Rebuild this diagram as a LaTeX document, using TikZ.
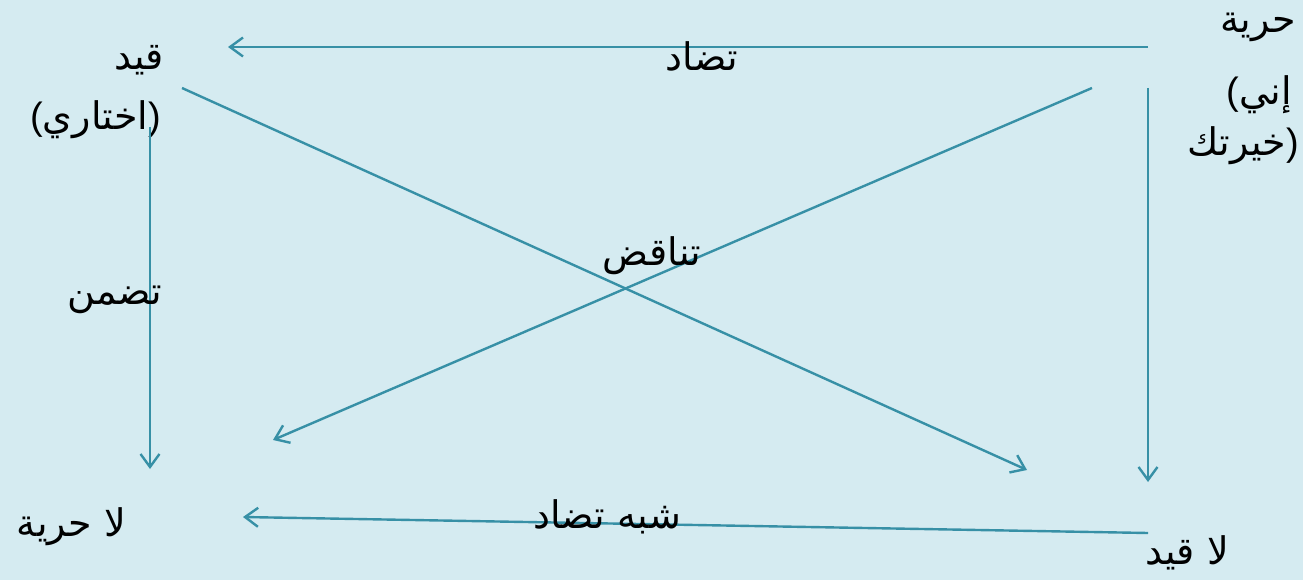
\documentclass[tikz,border=0pt]{standalone}
\usepackage{fontspec}
\usetikzlibrary{arrows.meta}
\TeXXeTstate=1
\newfontfamily\arabicfont[Script=Arabic]{DejaVu Sans}
\newfontfamily\parfont{Liberation Sans}
\newcommand{\lp}{{\parfont(}}
\newcommand{\rp}{{\parfont)}}
\definecolor{bgc}{HTML}{D5EBF1}
\definecolor{arc}{HTML}{3790A6}
\tikzset{
  conn/.style={draw=arc, line width=2.4pt, -{Straight Barb[length=13pt,width=19pt,line width=2.4pt]}},
  lbl/.style={inner sep=0pt, font=\fontsize{38}{44}\selectfont\arabicfont, text=black},
}
\begin{document}
\begin{tikzpicture}[x=1pt,y=-1pt]
\fill[bgc] (0,0) rectangle (1303,580);
\useasboundingbox (0,0) rectangle (1303,580);
% corner texts
\node[lbl, anchor=east] (hur) at (1296,27) {\beginR حرية\endR};
\node[lbl, anchor=east] (inni) at (1292,95) {\lp\beginR إني\endR};
\node[lbl, anchor=east] (khay) at (1299,146) {\beginR خيرتك\endR\rp};
\node[lbl, anchor=east] (qayd) at (164,60) {\beginR قيد\endR};
\node[lbl, anchor=east] (ikht) at (161,120) {\lp\beginR اختاري\endR\rp};
\node[lbl, anchor=east] (lahur) at (126,527) {\beginR لا حرية\endR};
\node[lbl, anchor=east] (laqayd) at (1229,553) {\beginR لا قيد\endR};
% connector ends
\coordinate (t1) at (1148,47);  \coordinate (t2) at (228,47);
\coordinate (r1) at (1148,88);  \coordinate (r2) at (1148,482);
\coordinate (l1) at (150,127);  \coordinate (l2) at (150,469);
\coordinate (d1) at (182,88);   \coordinate (d2) at (1027,470);
\coordinate (e1) at (1092,88);  \coordinate (e2) at (273,440);
\coordinate (b1) at (1148,533); \coordinate (b2) at (243,517);
\draw[conn] (t1) -- (t2);
\draw[conn] (r1) -- (r2);
\draw[conn] (l1) -- (l2);
\draw[conn] (d1) -- (d2);
\draw[conn] (e1) -- (e2);
\draw[conn] (b1) -- (b2);
% labels
\node[lbl] (tadad) at (702,56) {\beginR تضاد\endR};
\node[lbl] (tanaqud) at (652,256) {\beginR تناقض\endR};
\node[lbl] (tadammun) at (115,300) {\beginR تضمن\endR};
\node[lbl] (shibh) at (607,517) {\beginR شبه تضاد\endR};
\end{tikzpicture}
\end{document}
